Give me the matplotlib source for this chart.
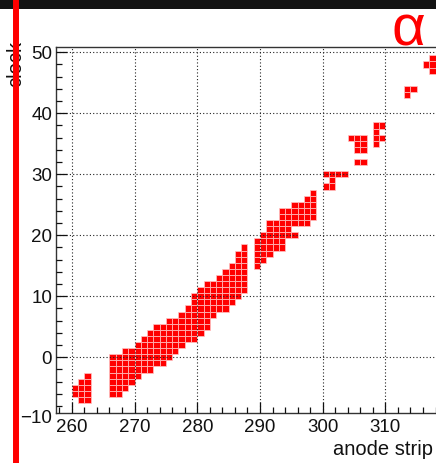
import numpy as np
import matplotlib
matplotlib.use("Agg")
import matplotlib.pyplot as plt
from matplotlib.ticker import MultipleLocator, FormatStrFormatter
from matplotlib.patches import Rectangle
from matplotlib.lines import Line2D

W, H = 436, 463

# hit cells, stored as vertical runs per anode strip: strip, first clock, last clock
run_strip = [260, 261, 262,
             266, 267, 268, 269, 270, 271, 272, 273, 274, 275, 276, 277,
             278, 279, 280, 281, 282, 283, 284, 285, 286, 287,
             289, 290, 291, 292, 293, 294, 295, 295, 296, 297, 298,
             300, 300, 301, 302, 303,
             304, 305, 305, 306, 306, 308, 309, 309,
             313, 314, 316, 317]
run_lo = [-6, -7, -7,
          -6, -6, -5, -4, -3, -2, -2, -1, -1, 0, 1, 2,
          3, 3, 4, 5, 7, 8, 8, 9, 10, 11,
          15, 16, 17, 18, 18, 20, 20, 22, 22, 22, 23,
          28, 30, 28, 30, 30,
          36, 32, 34, 32, 34, 35, 36, 38,
          43, 44, 48, 47]
run_hi = [-5, -4, -3,
          0, 0, 1, 1, 2, 3, 4, 5, 5, 6, 6, 7,
          8, 10, 11, 12, 12, 13, 14, 15, 17, 18,
          19, 20, 22, 22, 24, 24, 20, 25, 25, 26, 27,
          28, 30, 30, 30, 30,
          36, 32, 36, 32, 36, 38, 36, 38,
          44, 44, 48, 49]

strips, clocks = [], []
for s, lo, hi in zip(run_strip, run_lo, run_hi):
    for c in range(lo, hi + 1):
        strips.append(s)
        clocks.append(c)
clocks = np.array(clocks)

plt.rcParams["font.family"] = ["Liberation Sans", "DejaVu Sans"]

fig = plt.figure(figsize=(W / 100, H / 100), dpi=100)

# 6.27 px per strip, 6.1 px per clock tick
ax = fig.add_axes([56.2 / W, 1 - 413.4 / H, 62 * 6.27 / W, 366 / H])
ax.bar(strips, 1.0, bottom=clocks - 0.5, width=1.0, align="edge",
       color="#ff0000", edgecolor="#ffc4c4", linewidth=0.5)

ax.set_xlim(257.5, 319.5)
ax.set_ylim(-9.2, 50.8)
ax.set_axisbelow(False)

ax.xaxis.set_major_locator(MultipleLocator(10))
ax.xaxis.set_minor_locator(MultipleLocator(2))
ax.yaxis.set_major_locator(MultipleLocator(10))
ax.yaxis.set_minor_locator(MultipleLocator(2))
ax.xaxis.set_major_formatter(FormatStrFormatter("%d"))
ax.yaxis.set_major_formatter(FormatStrFormatter("%d"))

ax.grid(True, which="major", color="#222222", linestyle=(0, (1, 2)), linewidth=0.8)
ax.tick_params(which="major", direction="in", length=8, width=0.9, labelsize=13.5,
               colors="#111111")
ax.tick_params(which="minor", direction="in", length=4.5, width=0.9, colors="#111111")
ax.tick_params(axis="x", which="major", pad=4)
ax.tick_params(axis="y", which="major", pad=3)
for side in ["left", "top", "bottom"]:
    ax.spines[side].set_color("#333333")
    ax.spines[side].set_linewidth(1.0)

# lowest y label sits just under the frame
fig.text(52 / W, 1 - 418.5 / H, "\u221210", ha="right", va="center",
         fontsize=13.5, color="#111111")

fig.text(333 / W, 1 - 455 / H, "anode strip", ha="left", va="baseline",
         fontsize=14.5, color="#111111")
fig.text(16 / W, 1 - 41 / H, "clock", ha="center", va="top", rotation=90,
         fontsize=14.5, color="#111111")

fig.text(408 / W, 1 - 45 / H, "\u03b1", ha="center", va="baseline",
         fontsize=42, color="#ff0000")

fig.add_artist(Rectangle((0, 1 - 8.5 / H), 1, 8.5 / H, transform=fig.transFigure,
                         facecolor="#131313", edgecolor="none", zorder=5))
fig.add_artist(Line2D([16.3 / W, 16.3 / W], [0, 1], transform=fig.transFigure,
                      color="#ff0000", linewidth=4.3, zorder=6))

fig.savefig("out.png", dpi=100)
